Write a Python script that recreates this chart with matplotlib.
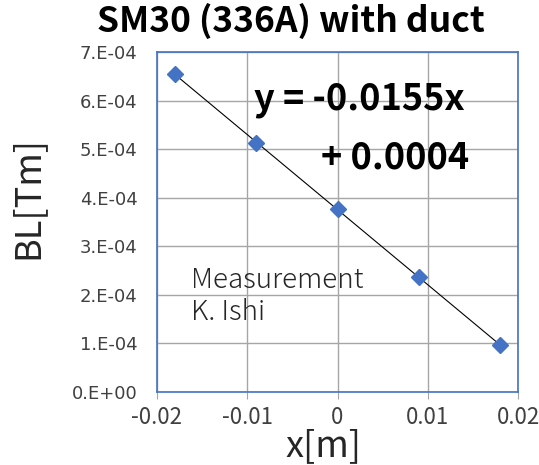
import matplotlib
matplotlib.use("Agg")
import matplotlib.pyplot as plt
import numpy as np

plt.rcParams['font.family'] = ['Noto Sans CJK JP', 'DejaVu Sans']

x_vals = [-0.018, -0.009, 0.0, 0.009, 0.018]
bl_vals = [6.55e-4, 5.12e-4, 3.76e-4, 2.37e-4, 0.97e-4]
y_ticks = [0, 1e-4, 2e-4, 3e-4, 4e-4, 5e-4, 6e-4, 7e-4]
y_tick_labels = ["0.E+00", "1.E-04", "2.E-04", "3.E-04", "4.E-04", "5.E-04", "6.E-04", "7.E-04"]
x_ticks = [-0.02, -0.01, 0, 0.01, 0.02]
x_tick_labels = ["-0.02", "-0.01", "0", "0.01", "0.02"]

W, H = 539, 465
fig = plt.figure(figsize=(W/100, H/100), dpi=100)
ax = fig.add_axes([157/W, 1-392/H, (518-157)/W, (392-52)/H])

# linear fit trend line
coef = np.polyfit(x_vals, bl_vals, 1)
xs = np.array([min(x_vals), max(x_vals)])
ax.plot(xs, np.polyval(coef, xs), color='black', lw=0.8, zorder=2)
ax.plot(x_vals, bl_vals, linestyle='none', marker='D', color='#4472C4', markersize=8, zorder=3)

ax.set_xlim(-0.02, 0.02)
ax.set_ylim(0, 7e-4)
ax.set_xticks(x_ticks)
ax.set_xticklabels(x_tick_labels, fontsize=16, color='#404040')
ax.set_yticks(y_ticks)
ax.set_yticklabels(y_tick_labels, fontsize=13, color='#404040', family='DejaVu Sans')
ax.grid(True, color='#A6A6A6', lw=1.0)
ax.set_axisbelow(True)
for s in ax.spines.values():
    s.set_color('#4472C4')
    s.set_linewidth(1.2)
ax.tick_params(axis='y', length=0, pad=14)
ax.tick_params(axis='x', length=5, color='#A6A6A6', pad=5)

fig.text(291/W, 1-21/H, "SM30 (336A) with duct", fontsize=25.5, fontweight='bold',
         ha='center', va='center')
fig.text(323/W, 1-446/H, "x[m]", fontsize=26, ha='center', va='center', color='#262626')
fig.text(27/W, 1-198/H, "BL[Tm]", fontsize=26, ha='center', va='center',
         rotation=90, color='#262626')

ax.text((359-157)/(518-157), 1-(100-52)/(392-52), "y = -0.0155x",
        transform=ax.transAxes, fontsize=26, fontweight='bold', ha='center', va='center')
ax.text((395-157)/(518-157), 1-(158-52)/(392-52), "+ 0.0004",
        transform=ax.transAxes, fontsize=26, fontweight='bold', ha='center', va='center')
ax.text((191-157)/(518-157), 1-(296-52)/(392-52), "Measurement\nK. Ishi",
        transform=ax.transAxes, fontsize=20, ha='left', va='center', linespacing=1.2,
        color='#262626', fontweight='light')

fig.savefig("out.png", dpi=100)
